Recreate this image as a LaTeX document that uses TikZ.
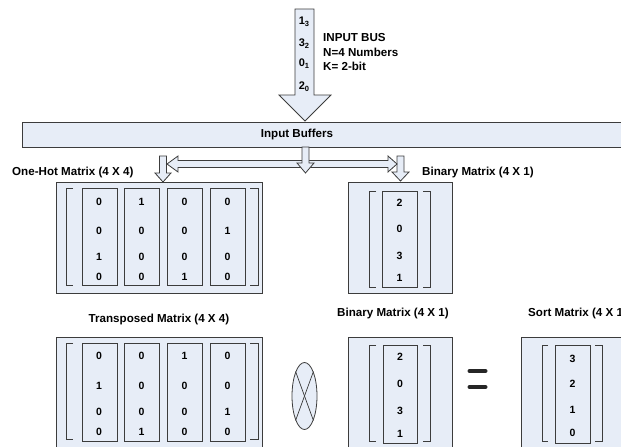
\documentclass[tikz,border=0pt]{standalone}
\usepackage{fontspec}
\setmainfont{Liberation Sans}
\usetikzlibrary{shapes.geometric}
\definecolor{bfill}{RGB}{231,237,247}
\definecolor{edge}{RGB}{60,60,60}
\newcommand{\bsub}[2]{#1\raisebox{-0.35ex}{\fontsize{7.5}{8}\selectfont #2}}
\begin{document}
\begin{tikzpicture}[x=1pt,y=-1pt,
  mbox/.style={draw=edge, fill=bfill, line width=0.9pt, inner sep=0pt, anchor=north west},
  colbox/.style={draw=edge, line width=0.8pt, inner sep=0pt, anchor=north west},
  brk/.style={draw=edge, line width=0.8pt},
  blk/.style={draw=edge, fill=bfill, line width=0.8pt, line join=miter},
  lbl/.style={font=\fontsize{11.6}{14.5}\selectfont\bfseries, inner sep=0pt},
  num/.style={font=\fontsize{10.5}{11}\selectfont\bfseries, inner sep=0pt},
  bus/.style={font=\fontsize{11}{12}\selectfont\bfseries, inner sep=0pt}]
\useasboundingbox (0,0) rectangle (621,447);
\clip (0,0) rectangle (621,447);

% input bus arrow
\filldraw[blk] (295,9) -- (314,9) -- (314,95) -- (331,95) -- (305,121) -- (279,95) -- (295,95) -- cycle;
\node[bus] (b3) at (304,22) {\bsub{1}{3}};
\node[bus] (b2) at (304,44) {\bsub{3}{2}};
\node[bus] (b1) at (304,64) {\bsub{0}{1}};
\node[bus] (b0) at (304,87) {\bsub{2}{0}};
\node[lbl, anchor=west, align=left] (bustxt) at (323,52.5) {INPUT BUS\\N=4 Numbers\\K= 2-bit};

% input buffers
\node[mbox, minimum width=640pt, minimum height=25pt] (buf) at (22,122) {};
\node[lbl] (buftxt) at (297,134.5) {Input Buffers};

% distribution arrows
\filldraw[blk] (159.5,156) -- (166.5,156) -- (166.5,173) -- (171,173) -- (163,182) -- (155,173) -- (159.5,173) -- cycle;
\filldraw[blk] (397,156) -- (404,156) -- (404,172) -- (409,172) -- (400.5,181) -- (392,172) -- (397,172) -- cycle;
\filldraw[blk] (305,160.5) -- (178,160.5) -- (178,156) -- (167,164) -- (178,172) -- (178,167.5) -- (305,167.5) -- cycle;
\filldraw[blk] (305,160.5) -- (388,160.5) -- (388,156) -- (397,164) -- (388,172) -- (388,167.5) -- (305,167.5) -- cycle;
\filldraw[blk] (302,147) -- (309,147) -- (309,163) -- (314,163) -- (305.5,173) -- (297,163) -- (302,163) -- cycle;

% labels
\node[lbl, anchor=west] (lonehot) at (12,172) {One-Hot Matrix (4 X 4)};
\node[lbl, anchor=west] (lbin1) at (422,172) {Binary Matrix (4 X 1)};
\node[lbl] (ltrans) at (159,319) {Transposed Matrix (4 X 4)};
\node[lbl] (lbin2) at (393,313) {Binary Matrix (4 X 1)};
\node[lbl, anchor=west] (lsort) at (528,313) {Sort Matrix (4 X 1)};

% one-hot matrix
\node[mbox, minimum width=206pt, minimum height=111pt] (onehot) at (56,182) {};
\draw[brk] (73,188) -- (66,188) -- (66,285) -- (73,285);
\draw[brk] (250,188) -- (258,188) -- (258,285) -- (250,285);
\foreach \cx/\va/\vb/\vc/\vd [count=\i] in {99/0/0/1/0, 141.5/1/0/0/0, 184.5/0/0/0/1, 227.5/0/1/0/0}{
  \node[colbox, minimum width=35pt, minimum height=97pt] (oh\i) at (\cx-17.5,188) {};
  \node[num] (oha\i) at (\cx,202) {\va};
  \node[num] (ohb\i) at (\cx,231) {\vb};
  \node[num] (ohc\i) at (\cx,257) {\vc};
  \node[num] (ohd\i) at (\cx,277) {\vd};
}

% binary matrix 1
\node[mbox, minimum width=104pt, minimum height=111pt] (bin1) at (348,182) {};
\draw[brk] (376,191) -- (369,191) -- (369,287) -- (376,287);
\draw[brk] (423,191) -- (430,191) -- (430,287) -- (423,287);
\node[colbox, minimum width=35pt, minimum height=96pt] (bc1) at (382,191) {};
\node[num] (bv1a) at (399.5,203) {2};
\node[num] (bv1b) at (399.5,229) {0};
\node[num] (bv1c) at (399.5,256) {3};
\node[num] (bv1d) at (399.5,278) {1};

% transposed matrix
\node[mbox, minimum width=206pt, minimum height=130pt] (trans) at (56,337) {};
\draw[brk] (73,343) -- (66,343) -- (66,439) -- (73,439);
\draw[brk] (250,343) -- (258,343) -- (258,439) -- (250,439);
\foreach \cx/\va/\vb/\vc/\vd [count=\i] in {99/0/1/0/0, 141.5/0/0/0/1, 184.5/1/0/0/0, 227.5/0/0/1/0}{
  \node[colbox, minimum width=35pt, minimum height=98pt] (tr\i) at (\cx-17.5,343) {};
  \node[num] (tra\i) at (\cx,356) {\va};
  \node[num] (trb\i) at (\cx,386) {\vb};
  \node[num] (trc\i) at (\cx,412) {\vc};
  \node[num] (trd\i) at (\cx,432) {\vd};
}

% multiply symbol
\node[draw=edge, fill=bfill, line width=0.8pt, ellipse, minimum width=25pt, minimum height=67pt, inner sep=0pt] (mul) at (304.5,396) {};
\draw[edge, line width=0.7pt] (mul.110) -- (mul.290);
\draw[edge, line width=0.7pt] (mul.70) -- (mul.250);

% binary matrix 2
\node[mbox, minimum width=104pt, minimum height=130pt] (bin2) at (348,337) {};
\draw[brk] (376,345) -- (369,345) -- (369,441) -- (376,441);
\draw[brk] (423,345) -- (430,345) -- (430,441) -- (423,441);
\node[colbox, minimum width=34pt, minimum height=98pt] (bc2) at (383,345) {};
\node[num] (bv2a) at (400,357) {2};
\node[num] (bv2b) at (400,384) {0};
\node[num] (bv2c) at (400,411) {3};
\node[num] (bv2d) at (400,434) {1};

% equals
\draw[black!85, line width=4pt, line cap=round] (469.5,371) -- (485.5,371);
\draw[black!85, line width=4pt, line cap=round] (469.5,387) -- (485.5,387);

% sort matrix
\node[mbox, minimum width=130pt, minimum height=130pt] (sortm) at (521,337) {};
\draw[brk] (548,345) -- (542,345) -- (542,441) -- (548,441);
\draw[brk] (595,345) -- (602,345) -- (602,441) -- (595,441);
\node[colbox, minimum width=35pt, minimum height=98pt] (sc) at (555,345) {};
\node[num] (sva) at (572.5,359) {3};
\node[num] (svb) at (572.5,384) {2};
\node[num] (svc) at (572.5,410) {1};
\node[num] (svd) at (572.5,433) {0};
\end{tikzpicture}
\end{document}
